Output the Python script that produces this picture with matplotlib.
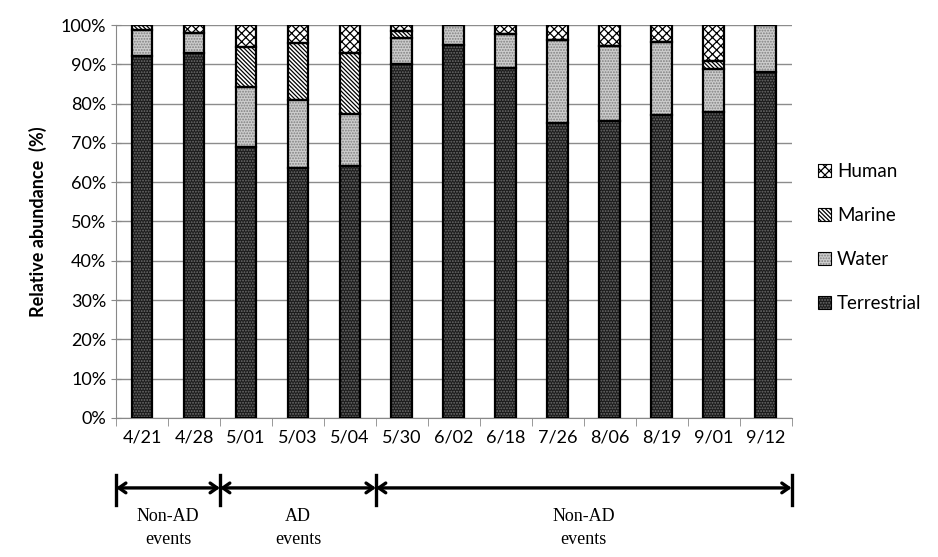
import matplotlib
matplotlib.use("Agg")
import matplotlib.pyplot as plt
from matplotlib.legend_handler import HandlerTuple
import numpy as np

dates = ["4/21", "4/28", "5/01", "5/03", "5/04", "5/30", "6/02", "6/18",
         "7/26", "8/06", "8/19", "9/01", "9/12"]
terrestrial = [92.0, 93.0, 69.0, 63.6, 64.0, 90.0, 94.9, 89.0, 75.1, 75.6, 77.0, 77.8, 88.1]
water       = [6.8, 5.0, 15.3, 17.4, 13.4, 6.8, 5.1, 8.7, 21.1, 19.1, 18.8, 10.9, 11.9]
marine      = [1.2, 0.0, 10.2, 14.3, 15.4, 1.8, 0.0, 0.0, 0.0, 0.0, 0.0, 2.2, 0.0]
human       = [0.0, 2.0, 5.5, 4.7, 7.2, 1.4, 0.0, 2.3, 3.8, 5.3, 4.2, 9.1, 0.0]

groups = [("Non-AD\nevents", -0.5, 1.5), ("AD\nevents", 1.5, 4.5), ("Non-AD\nevents", 4.5, 12.5)]

plt.rcParams['font.family'] = ['Lato', 'DejaVu Sans']
plt.rcParams['hatch.linewidth'] = 0.9

fig = plt.figure(figsize=(9.38, 5.57), dpi=100)
ax = fig.add_axes([0.1237, 0.2496, 0.7203, 0.7055])

x = np.arange(len(dates))
w = 0.4
series = [
    ("Terrestrial", terrestrial, "#1c1c1c", "#6e6e6e", "......"),
    ("Water", water, "#cdcdcd", "#808080", "......"),
    ("Marine", marine, "white", "black", "\\\\\\\\\\\\\\\\"),
    ("Human", human, "white", "black", "xxxx"),
]
bottom = np.zeros(len(dates))
handles = []
for name, vals, fc, hc, hatch in series:
    vals = np.array(vals)
    ax.bar(x, vals, w, bottom=bottom, color=fc, edgecolor=hc, hatch=hatch,
           linewidth=0, zorder=3)
    ax.bar(x, vals, w, bottom=bottom, fill=False, edgecolor="black",
           linewidth=1.6, zorder=4)
    h1 = plt.Rectangle((0, 0), 1, 1, facecolor=fc, edgecolor=hc, hatch=hatch, linewidth=0)
    h2 = plt.Rectangle((0, 0), 1, 1, fill=False, edgecolor='black', linewidth=0.8)
    handles.append(((h1, h2), name))
    bottom += vals

ax.set_xlim(-0.5, len(dates) - 0.5)
ax.set_ylim(0, 100)
ax.set_yticks(np.arange(0, 101, 10))
ax.set_yticklabels([f"{v}%" for v in range(0, 101, 10)], fontsize=13)
ax.set_xticks(x)
ax.set_xticklabels(dates, fontsize=13)
ax.tick_params(axis='x', length=0, pad=8)
ax.set_xticks(np.arange(-0.5, len(dates), 1), minor=True)
ax.tick_params(axis='x', which='minor', length=6, color='#888888', direction='out')
ax.tick_params(axis='y', length=7, color='#888888', direction='inout')
ax.grid(axis='y', color='#8c8c8c', linewidth=1.0, zorder=0)
ax.set_axisbelow(True)
for s in ['top', 'right']:
    ax.spines[s].set_visible(False)
for s in ['left', 'bottom']:
    ax.spines[s].set_color('#888888')
ax.set_ylabel("Relative abundance  (%)", fontsize=13, fontweight='bold', labelpad=10)

hs = [h for h, n in handles][::-1]
ns = [n for h, n in handles][::-1]
ax.legend(hs, ns, loc='center left', bbox_to_anchor=(1.02, 0.459), frameon=False,
          fontsize=13.5, handlelength=0.7, handleheight=0.7, labelspacing=1.45,
          handletextpad=0.3, borderaxespad=0.3,
          handler_map={tuple: HandlerTuple(ndivide=1, pad=0)})

trans = ax.get_xaxis_transform()
ya = -0.178
for label, x0, x1 in groups:
    ax.annotate("", xy=(x0, ya), xytext=(x1, ya), xycoords=trans, textcoords=trans,
                arrowprops=dict(arrowstyle='<->,head_length=0.5,head_width=0.35',
                                color='black', lw=2.4, shrinkA=0, shrinkB=0),
                annotation_clip=False)
    ax.text((x0 + x1) / 2, -0.28, label, transform=trans, ha='center', va='center',
            fontsize=13, family=['Liberation Serif', 'DejaVu Serif'], linespacing=1.5)
for xb in [-0.5, 1.5, 4.5, 12.5]:
    ax.plot([xb, xb], [-0.145, -0.222], transform=trans, color='black', lw=2.4,
            clip_on=False)

fig.savefig("out.png", dpi=100)
